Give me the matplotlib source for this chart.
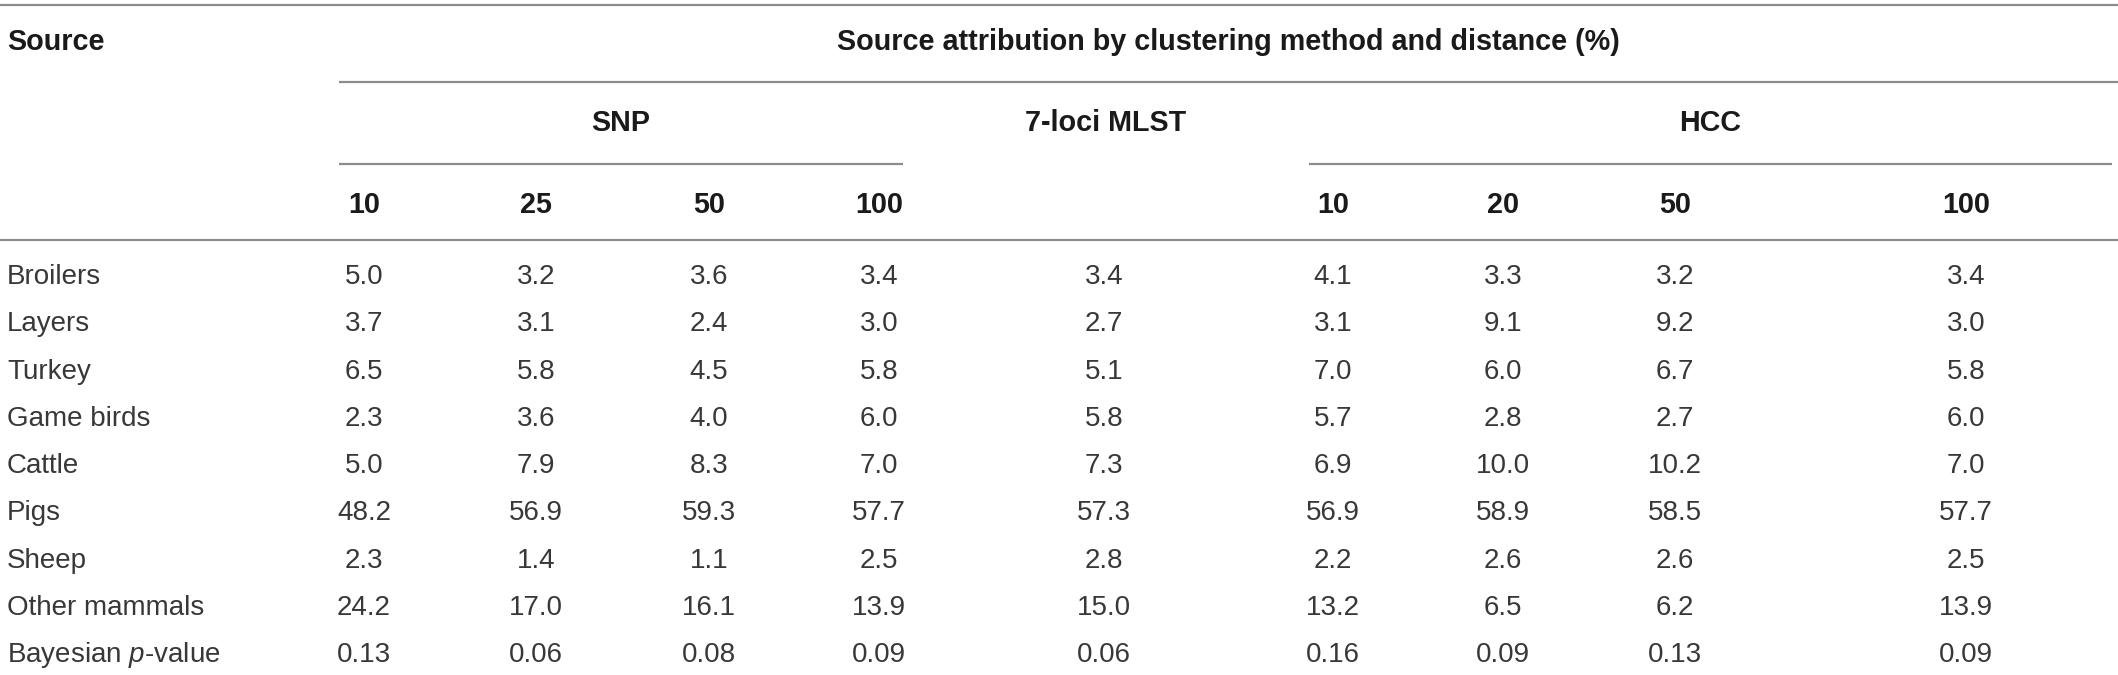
import matplotlib.pyplot as plt

# table content
sources = ['Broilers', 'Layers', 'Turkey', 'Game birds', 'Cattle', 'Pigs',
           'Sheep', 'Other mammals', 'Bayesian $\\it{p}$-value']
snp_dist = ['10', '25', '50', '100']
hcc_dist = ['10', '20', '50', '100']

snp_10 = ['5.0', '3.7', '6.5', '2.3', '5.0', '48.2', '2.3', '24.2', '0.13']
snp_25 = ['3.2', '3.1', '5.8', '3.6', '7.9', '56.9', '1.4', '17.0', '0.06']
snp_50 = ['3.6', '2.4', '4.5', '4.0', '8.3', '59.3', '1.1', '16.1', '0.08']
snp_100 = ['3.4', '3.0', '5.8', '6.0', '7.0', '57.7', '2.5', '13.9', '0.09']
mlst = ['3.4', '2.7', '5.1', '5.8', '7.3', '57.3', '2.8', '15.0', '0.06']
hcc_10 = ['4.1', '3.1', '7.0', '5.7', '6.9', '56.9', '2.2', '13.2', '0.16']
hcc_20 = ['3.3', '9.1', '6.0', '2.8', '10.0', '58.9', '2.6', '6.5', '0.09']
hcc_50 = ['3.2', '9.2', '6.7', '2.7', '10.2', '58.5', '2.6', '6.2', '0.13']
hcc_100 = ['3.4', '3.0', '5.8', '6.0', '7.0', '57.7', '2.5', '13.9', '0.09']

columns = [snp_10, snp_25, snp_50, snp_100, mlst, hcc_10, hcc_20, hcc_50, hcc_100]

# layout (pixel coordinates of the 2118x675 canvas)
W, H = 2118, 675
col_x = [364, 536, 709, 879, 1104, 1333, 1503, 1675, 1966]
row0, row_step = 277, 47.3
line_col = '#8c8c8c'
fs = 20

plt.rcParams['font.family'] = ['Liberation Sans', 'DejaVu Sans']
plt.rcParams['mathtext.fontset'] = 'custom'
plt.rcParams['mathtext.it'] = 'Liberation Sans:italic'
plt.rcParams['mathtext.rm'] = 'Liberation Sans'

fig = plt.figure(figsize=(W / 100, H / 100), dpi=100)
ax = fig.add_axes([0, 0, 1, 1])
ax.set_xlim(0, W)
ax.set_ylim(H, 0)
ax.axis('off')

def hline(y, x0, x1):
    ax.plot([x0, x1], [y, y], color=line_col, lw=1.6, solid_capstyle='butt')

# rules
hline(5, 0, W)
hline(82, 339, W)
hline(164, 339, 903)
hline(164, 1309, 2112)
hline(240, 0, W)

# header
bold = dict(fontsize=fs + 0.7, fontweight='bold', color='#1a1a1a', va='center')
ax.text(7, 42, 'Source', ha='left', **bold)
ax.text(1228, 42, 'Source attribution by clustering method and distance (%)', ha='center', **bold)
ax.text(621, 123, 'SNP', ha='center', **bold)
ax.text(1106, 123, '7-loci MLST', ha='center', **bold)
ax.text(1710, 123, 'HCC', ha='center', **bold)
for x, lab in zip(col_x[:4], snp_dist):
    ax.text(x, 205, lab, ha='center', **bold)
for x, lab in zip(col_x[5:], hcc_dist):
    ax.text(x, 205, lab, ha='center', **bold)

# body
body = dict(fontsize=fs, color='#383838', va='center')
for i, name in enumerate(sources):
    y = row0 + i * row_step
    ax.text(7, y, name, ha='left', **body)
    for x, col in zip(col_x, columns):
        ax.text(x, y, col[i], ha='center', **body)

fig.savefig('out.png', dpi=100)
